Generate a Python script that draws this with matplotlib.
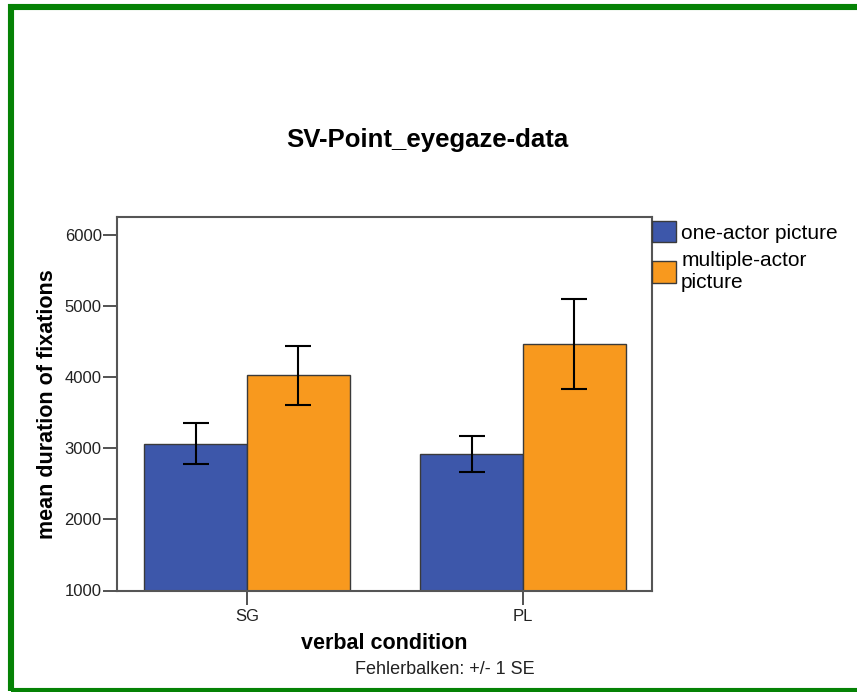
import matplotlib
matplotlib.use("Agg")
import matplotlib.pyplot as plt
from matplotlib.patches import Rectangle, Patch
import numpy as np

plt.rcParams['font.family'] = ['Liberation Sans', 'DejaVu Sans']

# Mean fixation durations per verbal condition and picture type, with +/- 1 SE
categories = ["SG", "PL"]
series_names = ["one-actor picture", "multiple-actor\npicture"]
one_actor_mean = [3068, 2928]
one_actor_se = [290, 254]
multi_actor_mean = [4030, 4472]
multi_actor_se = [414, 630]
y_ticks = [1000, 2000, 3000, 4000, 5000, 6000]

blue = "#3d57aa"
orange = "#f8991e"
edge = "#3a3a3a"

W, H = 857, 692
fig = plt.figure(figsize=(W / 100, H / 100), dpi=100)
fig.patch.set_facecolor("white")

ax = fig.add_axes([117 / W, 1 - 590.5 / H, (652 - 117) / W, (590.5 - 217) / H])

x = np.arange(len(categories))
bw = 0.372
err_kw = dict(ecolor="black", elinewidth=1.5, capsize=9.4, capthick=1.5)
ax.bar(x - bw / 2, np.array(one_actor_mean) - 1000, bw, bottom=1000,
       color=blue, edgecolor=edge, linewidth=1.0, zorder=2)
ax.bar(x + bw / 2, np.array(multi_actor_mean) - 1000, bw, bottom=1000,
       color=orange, edgecolor=edge, linewidth=1.0, zorder=2)
ax.errorbar(x - bw / 2, one_actor_mean, yerr=one_actor_se, fmt="none", zorder=3, **err_kw)
ax.errorbar(x + bw / 2, multi_actor_mean, yerr=multi_actor_se, fmt="none", zorder=3, **err_kw)

ax.set_xlim(-0.471, 1.467)
ax.set_ylim(1000, 6260)
ax.set_xticks(x)
ax.set_xticklabels(categories)
ax.set_yticks(y_ticks)
ax.set_yticklabels([str(t) for t in y_ticks])
ax.tick_params(axis="both", direction="out", length=10, width=1.3, color="#444444",
               labelsize=12, labelcolor="#222222", pad=1)
ax.tick_params(axis="x", pad=3)
for sp in ax.spines.values():
    sp.set_color("#555555")
    sp.set_linewidth(1.5)

ax.set_xlabel("verbal condition", fontsize=15.5, fontweight="bold")
ax.xaxis.set_label_coords(0.5, -0.115)
ax.set_ylabel("mean duration of fixations", fontsize=15.5, fontweight="bold")
ax.yaxis.set_label_coords(-0.11, 0.5)

handles = [Patch(facecolor=blue, edgecolor=edge, linewidth=1.0),
           Patch(facecolor=orange, edgecolor=edge, linewidth=1.0)]
ax.legend(handles, series_names, loc="upper left", bbox_to_anchor=(1.0, 0.99),
          frameon=False, fontsize=15, handlelength=1.15, handleheight=1.22,
          handletextpad=0.25, borderaxespad=0.0, borderpad=0.0, labelspacing=0.4)

fig.text(427 / W, 1 - 140 / H, "SV-Point_eyegaze-data", ha="center", va="center",
         fontsize=18.5, fontweight="bold")
fig.text(445 / W, 1 - 669 / H, "Fehlerbalken: +/- 1 SE", ha="center", va="center",
         fontsize=13, color="#222222")

# green frame around the panel
fig.patches.append(Rectangle((11 / W, 1 - 690.5 / H), (W + 20) / W, (690.5 - 7) / H,
                             transform=fig.transFigure, fill=False,
                             edgecolor="#058205", linewidth=4.4, zorder=10))

fig.savefig("out.png", dpi=100)
